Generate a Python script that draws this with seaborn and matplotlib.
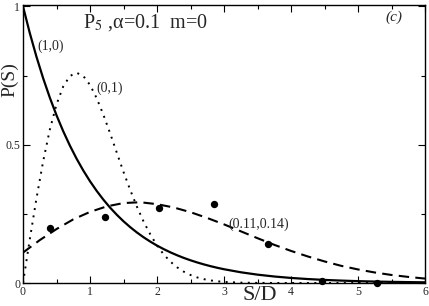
import numpy as np
import pandas as pd
import matplotlib
matplotlib.use("Agg")
import matplotlib.pyplot as plt
import seaborn as sns
from matplotlib.ticker import MultipleLocator

# ---- data ----
s_grid = [0.0, 0.1, 0.2, 0.3, 0.4, 0.5, 0.6, 0.7, 0.8, 0.9, 1.0, 1.1, 1.2, 1.3, 1.4,
          1.5, 1.6, 1.7, 1.8, 1.9, 2.0, 2.1, 2.2, 2.3, 2.4, 2.5, 2.6, 2.7, 2.8, 2.9,
          3.0, 3.25, 3.5, 3.75, 4.0, 4.25, 4.5, 4.75, 5.0, 5.25, 5.5, 5.75, 6.0]
p_10 = [1.0, 0.9048, 0.8187, 0.7408, 0.6703, 0.6065, 0.5488, 0.4966, 0.4493, 0.4066,
        0.3679, 0.3329, 0.3012, 0.2725, 0.2466, 0.2231, 0.2019, 0.1827, 0.1653, 0.1496,
        0.1353, 0.1225, 0.1108, 0.1003, 0.0907, 0.0821, 0.0743, 0.0672, 0.0608, 0.0550,
        0.0498, 0.0388, 0.0302, 0.0235, 0.0183, 0.0143, 0.0111, 0.0087, 0.0067, 0.0052,
        0.0041, 0.0032, 0.0025]
p_01 = [0.0, 0.1558, 0.3044, 0.4391, 0.5541, 0.6454, 0.7103, 0.7483, 0.7600, 0.7484,
        0.7161, 0.6680, 0.6081, 0.5413, 0.4711, 0.4015, 0.3365, 0.2761, 0.2219, 0.1757,
        0.1357, 0.1033, 0.0772, 0.0567, 0.0409, 0.0290, 0.0201, 0.0139, 0.0093, 0.0062,
        0.0040, 0.0013, 0.0004, 0.0001, 0.0, 0.0, 0.0, 0.0, 0.0, 0.0, 0.0, 0.0, 0.0]
s_mix = [0.0, 0.25, 0.5, 0.75, 1.0, 1.25, 1.5, 1.75, 2.0, 2.25, 2.5, 2.75, 3.0, 3.25,
         3.5, 3.75, 4.0, 4.25, 4.5, 4.75, 5.0, 5.25, 5.5, 5.75, 6.0]
p_mix = [0.110, 0.155, 0.195, 0.230, 0.257, 0.277, 0.289, 0.292, 0.285, 0.273, 0.256,
         0.235, 0.212, 0.187, 0.162, 0.138, 0.116, 0.096, 0.078, 0.062, 0.049, 0.038,
         0.029, 0.022, 0.016]
s_pts = [0.40, 1.22, 2.03, 2.85, 3.65, 4.47, 5.28]
p_pts = [0.20, 0.24, 0.27, 0.287, 0.14, 0.009, 0.0]

x_ticks = [0, 1, 2, 3, 4, 5, 6]
x_ticklabels = ["0", "1", "2", "3", "4", "5", "6"]
y_ticks = [0, 0.5, 1]
y_ticklabels = ["0", "0.5", "1"]

# ---- style ----
sns.set_style("ticks")
plt.rcParams["font.family"] = ["Liberation Serif", "DejaVu Serif"]
plt.rcParams["mathtext.fontset"] = "stix"

fig = plt.figure(figsize=(4.29, 3.06), dpi=100)
ax = fig.add_axes([23 / 429, 1 - 283 / 306, (425 - 23) / 429, (283 - 5) / 306])

df_curves = pd.DataFrame({"S": s_grid, "p10": p_10, "p01": p_01})
df_mix = pd.DataFrame({"S": s_mix, "p": p_mix})
df_pts = pd.DataFrame({"S": s_pts, "p": p_pts})

sns.lineplot(data=df_curves, x="S", y="p10", ax=ax, color="black", lw=1.6)
sns.lineplot(data=df_curves, x="S", y="p01", ax=ax, color="black", lw=1.4,
             linestyle=(0, (1, 2.8)))
sns.lineplot(data=df_mix, x="S", y="p", ax=ax, color="black", lw=1.5,
             linestyle=(0, (5, 3)))
sns.scatterplot(data=df_pts, x="S", y="p", ax=ax, color="black", s=28,
                edgecolor="black", linewidth=0, zorder=5, clip_on=False)

ax.set_xlim(0, 6)
ax.set_ylim(0, 1.005)
ax.set_xticks(x_ticks)
ax.set_xticklabels(x_ticklabels)
ax.set_yticks(y_ticks)
ax.set_yticklabels(y_ticklabels)
ax.xaxis.set_minor_locator(MultipleLocator(0.5))
ax.yaxis.set_minor_locator(MultipleLocator(0.25))
ax.tick_params(which="both", direction="in", top=True, right=True, width=0.8,
               labelsize=8.5, pad=2, color="black")
ax.tick_params(which="major", length=5)
ax.tick_params(which="minor", length=3)
for sp in ax.spines.values():
    sp.set_linewidth(1.0)
    sp.set_color("black")
    sp.set_visible(True)

ax.set_xlabel("")
ax.set_ylabel("")
fig.text(10 / 429, 1 - 80 / 306, "P(S)", rotation=90, ha="center", va="center",
         fontsize=14)
fig.text(260 / 429, 1 - 295 / 306, "S/D", ha="center", va="center", fontsize=16)

ax.text(0.90, 0.94, r"P$_5$ ,α=0.1  m=0", fontsize=14.5, ha="left", va="center")
ax.text(5.54, 0.96, "(c)", fontsize=11, style="italic", ha="center", va="center")
ax.text(0.21, 0.856, "(1,0)", fontsize=10, ha="left", va="center")
ax.text(1.10, 0.704, "(0,1)", fontsize=10, ha="left", va="center")
ax.text(3.07, 0.213, "(0.11,0.14)", fontsize=10, ha="left", va="center")

fig.savefig("out.png", dpi=100, facecolor="white")
